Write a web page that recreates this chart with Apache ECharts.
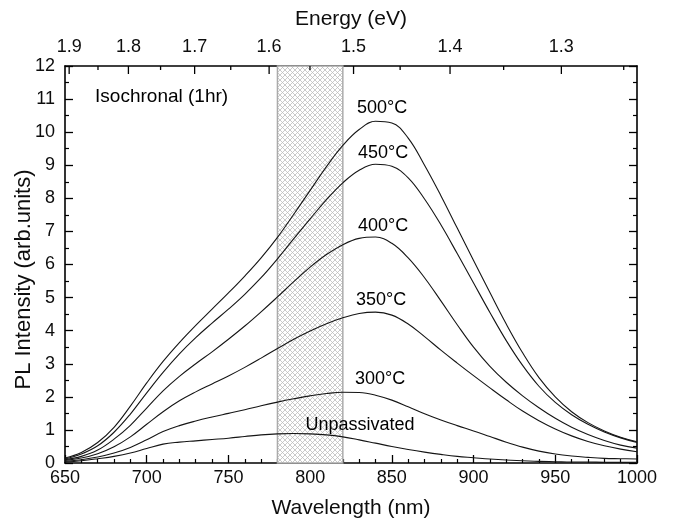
<!DOCTYPE html>
<html>
<head>
<meta charset="utf-8">
<script src="https://cdn.jsdelivr.net/npm/echarts@6/dist/echarts.min.js"></script>
<style>
  html, body { margin: 0; padding: 0; background: #fff; }
  #chart { width: 678px; height: 525px; }
</style>
</head>
<body>
<div id="chart"></div>
<script>
// PL spectra after 1 h isochronal anneals, sampled every 10 nm
const wavelengths = [650, 660, 670, 680, 690, 700, 710, 720, 730, 740, 750, 760, 770, 780, 790, 800, 810, 820,
                     830, 840, 850, 860, 870, 880, 890, 900, 910, 920, 930, 940, 950, 960, 970, 980, 990, 1000];

const plUnpassivated = [0.03, 0.07, 0.13, 0.20, 0.30, 0.44, 0.57, 0.63, 0.67, 0.71, 0.75, 0.80, 0.85, 0.88, 0.89, 0.88,
                        0.85, 0.79, 0.70, 0.60, 0.50, 0.41, 0.33, 0.26, 0.20, 0.16, 0.12, 0.09, 0.07, 0.05, 0.04, 0.03,
                        0.03, 0.02, 0.02, 0.02];
const pl300 = [0.05, 0.10, 0.18, 0.30, 0.47, 0.70, 0.95, 1.13, 1.27, 1.39, 1.50, 1.61, 1.73, 1.84, 1.94, 2.03, 2.10, 2.14,
               2.13, 2.05, 1.90, 1.70, 1.49, 1.30, 1.13, 0.97, 0.80, 0.63, 0.48, 0.36, 0.27, 0.21, 0.17, 0.14, 0.13, 0.12];
const pl350 = [0.08, 0.15, 0.28, 0.49, 0.79, 1.17, 1.55, 1.88, 2.15, 2.39, 2.63, 2.89, 3.17, 3.46, 3.74, 3.99, 4.21, 4.39,
               4.52, 4.56, 4.47, 4.20, 3.82, 3.41, 3.02, 2.64, 2.27, 1.91, 1.57, 1.28, 1.03, 0.82, 0.65, 0.52, 0.42, 0.34];
const pl400 = [0.10, 0.20, 0.39, 0.72, 1.14, 1.66, 2.18, 2.62, 3.00, 3.36, 3.74, 4.14, 4.57, 5.02, 5.48, 5.92, 6.30, 6.60,
               6.79, 6.83, 6.64, 6.20, 5.60, 4.90, 4.18, 3.50, 2.92, 2.44, 2.03, 1.67, 1.35, 1.08, 0.86, 0.68, 0.54, 0.45];
const pl450 = [0.12, 0.27, 0.52, 0.93, 1.48, 2.12, 2.74, 3.30, 3.79, 4.23, 4.65, 5.10, 5.60, 6.17, 6.78, 7.38, 7.96, 8.47,
               8.85, 9.03, 8.97, 8.62, 7.98, 7.20, 6.33, 5.44, 4.55, 3.70, 2.95, 2.32, 1.83, 1.46, 1.17, 0.94, 0.76, 0.62];
const pl500 = [0.15, 0.32, 0.62, 1.08, 1.72, 2.42, 3.07, 3.64, 4.16, 4.65, 5.14, 5.65, 6.20, 6.82, 7.52, 8.24, 8.96, 9.60,
               10.08, 10.33, 10.28, 9.82, 9.00, 8.08, 7.10, 6.12, 5.15, 4.20, 3.33, 2.58, 2.00, 1.55, 1.22, 0.97, 0.78, 0.64];

const curveNames = ['Unpassivated', '300°C', '350°C', '400°C', '450°C', '500°C'];
const curveValues = [plUnpassivated, pl300, pl350, pl400, pl450, pl500];

// photon-energy scale on the top axis (eV)
const energyMajor = [1.9, 1.8, 1.7, 1.6, 1.5, 1.4, 1.3];
const energyMinor = [1.85, 1.75, 1.65, 1.55, 1.45, 1.35, 1.25];
const HC_EV_NM = 1239.84;

// shaded wavelength window (nm)
const bandRange = [780, 820];

// curve annotations
const annoText = ['Isochronal (1hr)', '500°C', '450°C', '400°C', '350°C', '300°C', 'Unpassivated'];
const annoX = [668.4, 844.0, 844.6, 844.6, 843.4, 842.8, 830.5];
const annoY = [11.08, 10.73, 9.37, 7.16, 4.93, 2.54, 1.15];
const annoAlign = ['left', 'center', 'center', 'center', 'center', 'center', 'center'];
const annoSize = [19, 18, 18, 18, 18, 18, 18];

const FONT = '"Liberation Sans", Arial, Helvetica, sans-serif';
const INK = '#0d0d0d';

function hatchPattern() {
  const size = 5;
  const c = document.createElement('canvas');
  c.width = c.height = size;
  const g = c.getContext('2d');
  g.fillStyle = '#ffffff';
  g.fillRect(0, 0, size, size);
  g.strokeStyle = '#bcbcbc';
  g.lineWidth = 0.8;
  g.beginPath();
  for (let k = -size; k <= size; k += size) {
    g.moveTo(k, 0); g.lineTo(k + size, size);
    g.moveTo(k + size, 0); g.lineTo(k, size);
  }
  g.stroke();
  return c;
}

const chart = echarts.init(document.getElementById('chart'), null, { renderer: 'canvas' });

const lineSeries = curveNames.map((name, i) => ({
  name: name,
  type: 'line',
  xAxisIndex: 0,
  yAxisIndex: 0,
  data: wavelengths.map((w, j) => [w, curveValues[i][j]]),
  showSymbol: false,
  smooth: 0.4,
  lineStyle: { color: '#151515', width: 1.1 },
  z: 5,
  silent: true
}));

const energyTicks = energyMajor.map(e => [HC_EV_NM / e, e, 1])
  .concat(energyMinor.map(e => [HC_EV_NM / e, e, 0]));

const option = {
  backgroundColor: '#ffffff',
  animation: false,
  textStyle: { fontFamily: FONT, color: INK },
  grid: { left: 65, right: 41, top: 66, bottom: 62, containLabel: false, outerBoundsMode: 'none' },
  xAxis: [
    {
      type: 'value', position: 'bottom', min: 650, max: 1000, interval: 50,
      name: 'Wavelength (nm)', nameLocation: 'middle', nameGap: 35,
      nameTextStyle: { fontSize: 21, color: INK, fontFamily: FONT },
      axisLine: { onZero: false, lineStyle: { color: '#000', width: 1.6 } },
      axisTick: { inside: true, length: 8, lineStyle: { color: '#000', width: 1.3 } },
      minorTick: { show: true, splitNumber: 5, length: 4, lineStyle: { color: '#000', width: 1.2 } },
      axisLabel: { fontSize: 18, color: INK, margin: 6, fontFamily: FONT, formatter: v => String(v) },
      splitLine: { show: false }
    },
    {
      type: 'value', position: 'top', min: 650, max: 1000,
      name: 'Energy (eV)', nameLocation: 'middle', nameGap: 36,
      nameTextStyle: { fontSize: 21, color: INK, fontFamily: FONT },
      axisLine: { onZero: false, lineStyle: { color: '#000', width: 1.6 } },
      axisTick: { show: false },
      axisLabel: { show: false },
      splitLine: { show: false }
    }
  ],
  yAxis: [
    {
      type: 'value', position: 'left', min: 0, max: 12, interval: 1,
      name: 'PL Intensity (arb.units)', nameLocation: 'middle', nameGap: 30, nameMoveOverlap: false,
      nameTextStyle: { fontSize: 22, color: INK, fontFamily: FONT, padding: [0, 30, 0, 0] },
      axisLine: { onZero: false, lineStyle: { color: '#000', width: 1.6 } },
      axisTick: { inside: true, length: 8, lineStyle: { color: '#000', width: 1.3 } },
      minorTick: { show: true, splitNumber: 2, length: 4, lineStyle: { color: '#000', width: 1.2 } },
      axisLabel: { fontSize: 18, color: INK, margin: 10, fontFamily: FONT },
      splitLine: { show: false }
    },
    {
      type: 'value', position: 'right', min: 0, max: 12, interval: 1,
      axisLine: { onZero: false, lineStyle: { color: '#000', width: 1.6 } },
      axisTick: { inside: true, length: 8, lineStyle: { color: '#000', width: 1.3 } },
      minorTick: { show: true, splitNumber: 2, length: 4, lineStyle: { color: '#000', width: 1.2 } },
      axisLabel: { show: false },
      splitLine: { show: false }
    }
  ],
  series: [
    {
      name: 'window',
      type: 'line',
      data: [],
      silent: true,
      z: 1,
      markArea: {
        silent: true,
        itemStyle: {
          color: { image: hatchPattern(), repeat: 'repeat' },
          borderColor: '#ababab',
          borderWidth: 1.5
        },
        data: [[{ xAxis: bandRange[0], yAxis: 0 }, { xAxis: bandRange[1], yAxis: 12 }]]
      }
    },
    ...lineSeries,
    {
      name: 'energy-scale',
      type: 'custom',
      xAxisIndex: 0,
      yAxisIndex: 0,
      data: energyTicks,
      clip: false,
      silent: true,
      z: 6,
      renderItem: function (params, api) {
        const p = api.coord([api.value(0), 12]);
        const major = api.value(2) === 1;
        const children = [{
          type: 'line',
          shape: { x1: p[0], y1: p[1], x2: p[0], y2: p[1] + (major ? 8 : 4) },
          style: { stroke: '#000', lineWidth: 1.3 }
        }];
        if (major) {
          children.push({
            type: 'text',
            x: p[0], y: p[1] - 10,
            style: {
              text: api.value(1).toFixed(1), fontSize: 18, fontFamily: FONT, fill: INK,
              align: 'center', verticalAlign: 'bottom'
            }
          });
        }
        return { type: 'group', children: children };
      }
    },
    {
      name: 'annotations',
      type: 'scatter',
      symbolSize: 0,
      silent: true,
      z: 7,
      itemStyle: { opacity: 1 },
      data: annoText.map((t, i) => ({
        value: [annoX[i], annoY[i]],
        label: {
          show: true, position: 'inside', formatter: t, opacity: 1,
          fontSize: annoSize[i], fontFamily: FONT, color: '#000', align: annoAlign[i], verticalAlign: 'middle'
        }
      }))
    }
  ]
};

chart.setOption(option);
</script>
</body>
</html>
